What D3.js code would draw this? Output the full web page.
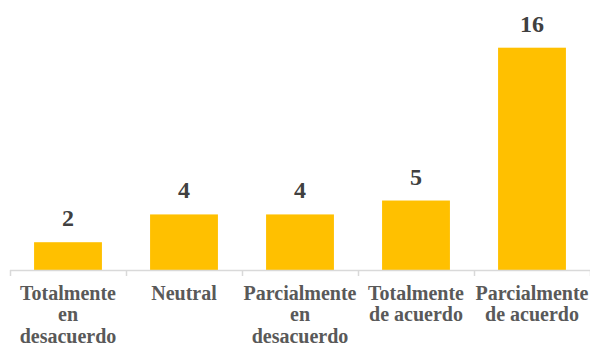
<!DOCTYPE html>
<html>
<head>
<meta charset="utf-8">
<script src="https://cdn.jsdelivr.net/npm/d3@7"></script>
<style>
  html, body { margin: 0; padding: 0; background: #fff; }
  svg { display: block; }
</style>
</head>
<body>
<svg id="chart" width="590" height="347"></svg>
<script>
// Survey responses per answer option
const categories = [
  "Totalmente en desacuerdo",
  "Neutral",
  "Parcialmente en desacuerdo",
  "Totalmente de acuerdo",
  "Parcialmente de acuerdo"
];
const counts = [2, 4, 4, 5, 16];

const W = 590, H = 347;
const margin = { left: 10, right: 0, baseline: 270 };

const svg = d3.select("#chart");

const x = d3.scaleBand()
  .domain(categories)
  .range([margin.left, W - margin.right])
  .paddingInner(0.415)
  .paddingOuter(0.2075);

const y = d3.scaleLinear()
  .domain([0, 16])
  .range([margin.baseline, 47.7]);

// Bars
svg.append("g").selectAll("rect")
  .data(categories)
  .join("rect")
  .attr("x", d => x(d))
  .attr("width", x.bandwidth())
  .attr("y", (d, i) => y(counts[i]))
  .attr("height", (d, i) => y(0) - y(counts[i]))
  .attr("fill", "#FFC000");

// Category axis: baseline with tick marks at band boundaries
const axisG = svg.append("g");
axisG.append("line")
  .attr("x1", margin.left).attr("x2", W)
  .attr("y1", y(0) + 0.5).attr("y2", y(0) + 0.5)
  .attr("stroke", "#d9d9d9").attr("stroke-width", 1.5);

const step = x.step();
const boundaries = d3.range(categories.length + 1).map(i => margin.left + i * step);
axisG.selectAll("line.tick")
  .data(boundaries)
  .join("line")
  .attr("class", "tick")
  .attr("x1", d => Math.round(d) + 0.5).attr("x2", d => Math.round(d) + 0.5)
  .attr("y1", y(0)).attr("y2", y(0) + 6)
  .attr("stroke", "#d9d9d9").attr("stroke-width", 1.5);

// Category labels, wrapped to the band width
const labelFont = "bold 20px 'Liberation Serif', 'Times New Roman', serif";
const ctx = document.createElement("canvas").getContext("2d");
ctx.font = labelFont;
function wrap(text, maxW) {
  const words = text.split(" ");
  const lines = [];
  let cur = "";
  words.forEach(w => {
    const t = cur ? cur + " " + w : w;
    if (ctx.measureText(t).width > maxW && cur) { lines.push(cur); cur = w; }
    else cur = t;
  });
  if (cur) lines.push(cur);
  return lines;
}

const labels = svg.append("g").selectAll("text")
  .data(categories)
  .join("text")
  .attr("text-anchor", "middle")
  .attr("fill", "#595959")
  .style("font", labelFont);

labels.each(function(d) {
  const cx = x(d) + x.bandwidth() / 2;
  const lines = wrap(d, step);
  d3.select(this).selectAll("tspan")
    .data(lines)
    .join("tspan")
    .attr("x", cx)
    .attr("y", (l, j) => 300 + j * 21.3)
    .text(l => l);
});

// Value labels above the bars
svg.append("g").selectAll("text")
  .data(categories)
  .join("text")
  .attr("x", d => x(d) + x.bandwidth() / 2)
  .attr("y", (d, i) => y(counts[i]) - 16)
  .attr("text-anchor", "middle")
  .attr("fill", "#404040")
  .style("font", "bold 24px 'Liberation Serif', 'Times New Roman', serif")
  .text((d, i) => counts[i]);
</script>
</body>
</html>
